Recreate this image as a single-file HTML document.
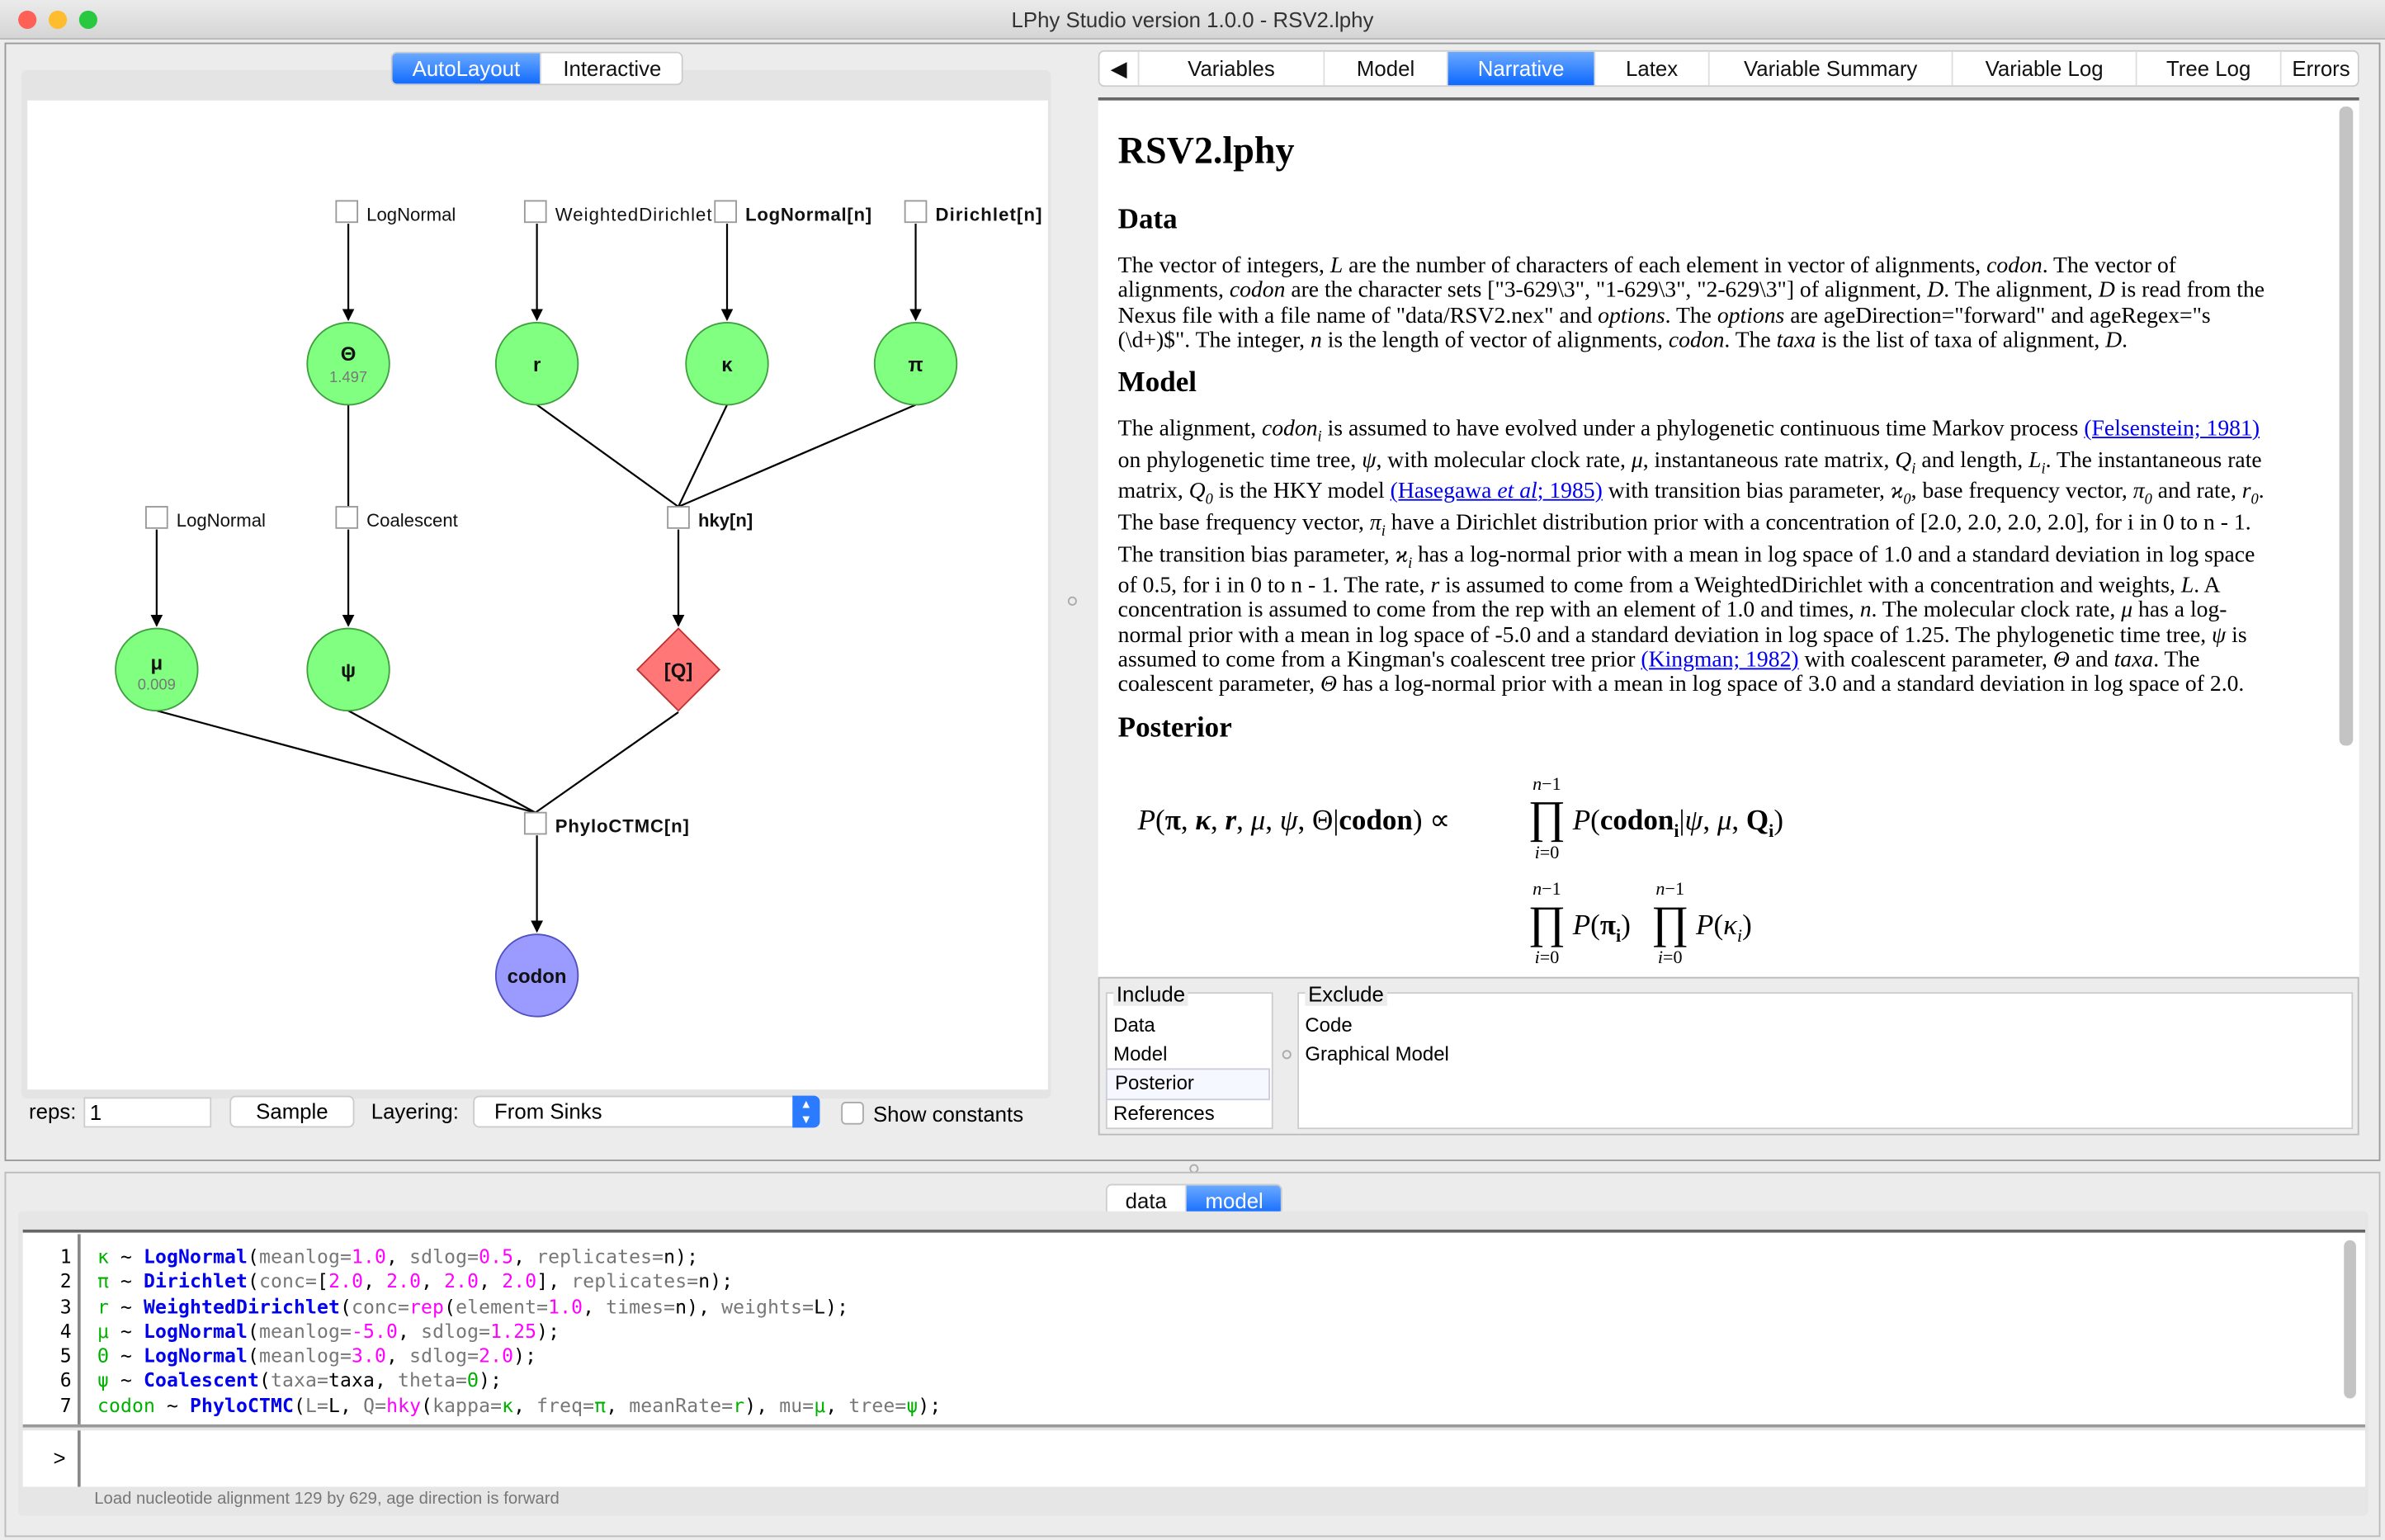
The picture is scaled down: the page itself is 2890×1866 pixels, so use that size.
<!DOCTYPE html>
<html><head><meta charset="utf-8"><style>
*{box-sizing:border-box;margin:0;padding:0}
body{width:2890px;height:1866px;overflow:hidden;background:#ececec;font-family:"Liberation Sans",sans-serif}
#w{position:absolute;left:0;top:0;width:1568px;height:1012px;transform:scale(1.8431,1.8439);transform-origin:0 0;background:#ececec}
.a{position:absolute}
.tab{position:absolute;top:0;height:23px;font-size:14px;line-height:23px;text-align:center;background:#fff;border-right:1px solid #ddd;color:#111}
.sel{background:linear-gradient(#6aa9ff,#0a66ff);color:#fff}
.L{position:absolute;left:735px;font-family:"Liberation Serif",serif;font-size:15px;line-height:18px;white-space:nowrap;color:#000}
.H{position:absolute;left:735px;font-family:"Liberation Serif",serif;font-size:19px;font-weight:bold;line-height:22px}
.L a{color:#00e;text-decoration:underline}
.L sub{font-size:10px;line-height:0}
.code{font-family:"DejaVu Sans Mono","Liberation Mono",monospace;font-size:12.5px;line-height:16.3px;white-space:pre;letter-spacing:0.07px}
.g{color:#00b000}.b{color:#0000ee;font-weight:bold}.m{color:#f0f}.gr{color:#777}
.lst div{font-size:13px;line-height:18.6px;padding-left:5px}
</style></head><body><div id="w">
<div class="a" style="left:0;top:0;width:1568px;height:26px;background:linear-gradient(#ebebeb,#d5d5d5);border-bottom:1px solid #b8b8b8;text-align:center;font-size:14px;line-height:26px;color:#333">LPhy Studio version 1.0.0 - RSV2.lphy</div>
<div class="a" style="left:12px;top:7px;width:12px;height:12px;border-radius:6px;background:#fe5f57"></div>
<div class="a" style="left:32px;top:7px;width:12px;height:12px;border-radius:6px;background:#febc2e"></div>
<div class="a" style="left:52px;top:7px;width:12px;height:12px;border-radius:6px;background:#28c840"></div>
<div class="a" style="left:3px;top:28px;width:1562px;height:735px;border:1px solid #999"></div>
<div class="a" style="left:14px;top:46px;width:677px;height:676px;background:#e4e4e4;border-radius:4px"></div>
<div class="a" style="left:257px;top:34px;width:192px;height:22px;border-radius:4px;overflow:hidden;border:1px solid #ccc">
<div class="tab sel" style="left:0;width:98px;height:22px;line-height:21px">AutoLayout</div>
<div class="tab" style="left:98px;width:94px;height:22px;line-height:21px">Interactive</div></div>
<div class="a" style="left:18px;top:66px;width:671px;height:650px;background:#fff"></div>
<svg class="a" style="left:0;top:0" width="700" height="720" font-family="Liberation Sans,sans-serif">
<defs><marker id="ar" markerWidth="8" markerHeight="8" refX="7" refY="4" orient="auto" markerUnits="userSpaceOnUse"><path d="M0,0L8,4L0,8z" fill="#000"/></marker></defs>
<g stroke="#000" stroke-width="1.2" fill="none">
<line x1="229" y1="147" x2="229" y2="210" marker-end="url(#ar)"/>
<line x1="353" y1="147" x2="353" y2="210" marker-end="url(#ar)"/>
<line x1="478" y1="147" x2="478" y2="210" marker-end="url(#ar)"/>
<line x1="602" y1="147" x2="602" y2="210" marker-end="url(#ar)"/>
<line x1="229" y1="266" x2="229" y2="333"/>
<line x1="353" y1="266" x2="446" y2="333"/><line x1="478" y1="266" x2="446" y2="333"/><line x1="602" y1="266" x2="446" y2="333"/>
<line x1="103" y1="348" x2="103" y2="411" marker-end="url(#ar)"/>
<line x1="229" y1="348" x2="229" y2="411" marker-end="url(#ar)"/>
<line x1="446" y1="348" x2="446" y2="411" marker-end="url(#ar)"/>
<line x1="103" y1="467" x2="352" y2="534"/><line x1="229" y1="467" x2="352" y2="534"/><line x1="446" y1="468" x2="352" y2="534"/>
<line x1="353" y1="549" x2="353" y2="612" marker-end="url(#ar)"/>
</g>
<g fill="#fff" stroke="#999">
<rect x="221" y="132" width="14" height="14"/><rect x="345" y="132" width="14" height="14"/><rect x="470" y="132" width="14" height="14"/><rect x="595" y="132" width="14" height="14"/>
<rect x="96" y="333" width="14" height="14"/><rect x="221" y="333" width="14" height="14"/><rect x="439" y="333" width="14" height="14"/><rect x="345" y="534" width="14" height="14"/>
</g>
<g font-size="12" fill="#111">
<text x="241" y="145">LogNormal</text><text x="365" y="145" textLength="103">WeightedDirichlet</text><text x="490" y="145" font-weight="bold" textLength="83">LogNormal[n]</text><text x="615" y="145" font-weight="bold" textLength="70">Dirichlet[n]</text>
<text x="116" y="346">LogNormal</text><text x="241" y="346">Coalescent</text><text x="459" y="346" font-weight="bold">hky[n]</text><text x="365" y="547" font-weight="bold" textLength="88">PhyloCTMC[n]</text>
</g>
<g fill="#80ff80" stroke="#3fa03f" stroke-width="1">
<circle cx="229" cy="239" r="27"/><circle cx="353" cy="239" r="27"/><circle cx="478" cy="239" r="27"/><circle cx="602" cy="239" r="27"/>
<circle cx="103" cy="440" r="27"/><circle cx="229" cy="440" r="27"/></g>
<path d="M446,413L473,440L446,467L419,440z" fill="#ff7777" stroke="#c03030"/>
<circle cx="353" cy="641" r="27" fill="#9a9aff" stroke="#5050c0"/>
<g font-size="13" font-weight="bold" text-anchor="middle" fill="#111">
<text x="229" y="237">Θ</text><text x="353" y="244">r</text><text x="478" y="244">κ</text><text x="602" y="244">π</text>
<text x="103" y="440">μ</text><text x="229" y="445">ψ</text><text x="446" y="445">[Q]</text><text x="353" y="646">codon</text></g>
<g font-size="10" text-anchor="middle" fill="#777"><text x="229" y="251">1.497</text><text x="103" y="453">0.009</text></g>
</svg>
<div class="a" style="left:19px;top:722px;font-size:14px">reps:</div>
<div class="a" style="left:55px;top:721px;width:84px;height:20px;background:#fff;border:1px solid #ccc;font-size:14px;padding-left:3px;line-height:18px">1</div>
<div class="a" style="left:151px;top:720px;width:82px;height:21px;background:#fff;border:1px solid #ccc;border-radius:4px;font-size:14px;text-align:center;line-height:19px">Sample</div>
<div class="a" style="left:244px;top:722px;font-size:14px">Layering:</div>
<div class="a" style="left:311px;top:720px;width:228px;height:21px;background:#fff;border:1px solid #ccc;border-radius:4px;font-size:14px;padding-left:13px;line-height:19px">From Sinks</div>
<div class="a" style="left:521px;top:720px;width:18px;height:21px;background:#2a7bff;border-radius:0 4px 4px 0;color:#fff;font-size:8px;text-align:center;line-height:10px;padding-top:1px">▲<br>▼</div>
<div class="a" style="left:553px;top:724px;width:15px;height:15px;background:#fff;border:1px solid #aaa;border-radius:3px"></div>
<div class="a" style="left:574px;top:724px;font-size:14px">Show constants</div>
<div class="a" style="left:702px;top:392px;width:6px;height:6px;border-radius:3px;border:1px solid #aaa"></div>
<div class="a" style="left:722px;top:33px;width:829px;height:24px;border:1px solid #ccc;border-radius:4px;overflow:hidden;background:#fff">
<div class="tab" style="left:0;width:26px">◀</div>
<div class="tab" style="left:26px;width:122px">Variables</div>
<div class="tab" style="left:148px;width:81px">Model</div>
<div class="tab sel" style="left:229px;width:97px">Narrative</div>
<div class="tab" style="left:326px;width:75px">Latex</div>
<div class="tab" style="left:401px;width:160px">Variable Summary</div>
<div class="tab" style="left:561px;width:121px">Variable Log</div>
<div class="tab" style="left:682px;width:95px">Tree Log</div>
<div class="tab" style="left:777px;width:52px;border:0">Errors</div></div>
<div class="a" style="left:722px;top:64px;width:829px;height:578px;background:#fff;border-top:2px solid #666"></div>
<div class="a" style="left:1538px;top:70px;width:9px;height:420px;background:#c4c4c4;border-radius:4px"></div>
<div class="H" style="top:86px;font-size:25px;line-height:28px">RSV2.lphy</div>
<div class="H" style="top:134px">Data</div>
<div class="L" style="top:166px">The vector of integers, <i>L</i> are the number of characters of each element in vector of alignments, <i>codon</i>. The vector of</div>
<div class="L" style="top:182px">alignments, <i>codon</i> are the character sets ["3-629\3", "1-629\3", "2-629\3"] of alignment, <i>D</i>. The alignment, <i>D</i> is read from the</div>
<div class="L" style="top:199px">Nexus file with a file name of "data/RSV2.nex" and <i>options</i>. The <i>options</i> are ageDirection="forward" and ageRegex="s</div>
<div class="L" style="top:215px">(\d+)$". The integer, <i>n</i> is the length of vector of alignments, <i>codon</i>. The <i>taxa</i> is the list of taxa of alignment, <i>D</i>.</div>
<div class="H" style="top:241px">Model</div>
<div class="L" style="top:273px">The alignment, <i>codon<sub>i</sub></i> is assumed to have evolved under a phylogenetic continuous time Markov process <a>(Felsenstein; 1981)</a></div>
<div class="L" style="top:294px">on phylogenetic time tree, <i>ψ</i>, with molecular clock rate, <i>μ</i>, instantaneous rate matrix, <i>Q<sub>i</sub></i> and length, <i>L<sub>i</sub></i>. The instantaneous rate</div>
<div class="L" style="top:314px">matrix, <i>Q<sub>0</sub></i> is the HKY model <a>(Hasegawa <i>et al</i>; 1985)</a> with transition bias parameter, <i>ϰ<sub>0</sub></i>, base frequency vector, <i>π<sub>0</sub></i> and rate, <i>r<sub>0</sub></i>.</div>
<div class="L" style="top:335px">The base frequency vector, <i>π<sub>i</sub></i> have a Dirichlet distribution prior with a concentration of [2.0, 2.0, 2.0, 2.0], for i in 0 to n - 1.</div>
<div class="L" style="top:356px">The transition bias parameter, <i>ϰ<sub>i</sub></i> has a log-normal prior with a mean in log space of 1.0 and a standard deviation in log space</div>
<div class="L" style="top:376px">of 0.5, for i in 0 to n - 1. The rate, <i>r</i> is assumed to come from a WeightedDirichlet with a concentration and weights, <i>L</i>. A</div>
<div class="L" style="top:392px">concentration is assumed to come from the rep with an element of 1.0 and times, <i>n</i>. The molecular clock rate, <i>μ</i> has a log-</div>
<div class="L" style="top:409px">normal prior with a mean in log space of -5.0 and a standard deviation in log space of 1.25. The phylogenetic time tree, <i>ψ</i> is</div>
<div class="L" style="top:425px">assumed to come from a Kingman's coalescent tree prior <a>(Kingman; 1982)</a> with coalescent parameter, <i>Θ</i> and <i>taxa</i>. The</div>
<div class="L" style="top:441px">coalescent parameter, <i>Θ</i> has a log-normal prior with a mean in log space of 3.0 and a standard deviation in log space of 2.0.</div>
<div class="H" style="top:468px">Posterior</div>
<div class="a" style="left:748px;top:528px;font-family:'Liberation Serif',serif;font-size:19px"><i>P</i>(<b>π</b>, <b><i>κ</i></b>, <b><i>r</i></b>, <i>μ</i>, <i>ψ</i>, Θ|<b>codon</b>) ∝</div>
<div class="a" style="left:1002px;top:508px;font-family:'Liberation Serif',serif;font-size:12px;text-align:center;width:30px"><i>n</i>−1<div style="font-size:30px;line-height:30px">∏</div><i>i</i>=0</div>
<div class="a" style="left:1034px;top:529px;font-family:'Liberation Serif',serif;font-size:19px"><i>P</i>(<b>codon<sub style="font-size:12px">i</sub></b>|<i>ψ</i>, <i>μ</i>, <b>Q<sub style="font-size:12px">i</sub></b>)</div>
<div class="a" style="left:1002px;top:577px;font-family:'Liberation Serif',serif;font-size:12px;text-align:center;width:30px"><i>n</i>−1<div style="font-size:30px;line-height:30px">∏</div><i>i</i>=0</div>
<div class="a" style="left:1034px;top:598px;font-family:'Liberation Serif',serif;font-size:19px"><i>P</i>(<b>π<sub style="font-size:12px">i</sub></b>)</div>
<div class="a" style="left:1083px;top:577px;font-family:'Liberation Serif',serif;font-size:12px;text-align:center;width:30px"><i>n</i>−1<div style="font-size:30px;line-height:30px">∏</div><i>i</i>=0</div>
<div class="a" style="left:1115px;top:598px;font-family:'Liberation Serif',serif;font-size:19px"><i>P</i>(<i>κ<sub style="font-size:12px">i</sub></i>)</div>
<div class="a" style="left:722px;top:642px;width:829px;height:104px;background:#ececec;border:1px solid #bbb"></div>
<div class="a" style="left:727px;top:652px;width:110px;height:90px;background:#fff;border:1px solid #ccc"></div>
<div class="a" style="left:732px;top:645px;font-size:14px;background:#ececec;padding:0 2px">Include</div>
<div class="a lst" style="left:727px;top:665px;width:108px"><div>Data</div><div>Model</div><div style="border:1px solid #ccd;background:#f6f8ff">Posterior</div><div>References</div></div>
<div class="a" style="left:843px;top:690px;width:6px;height:6px;border-radius:3px;border:1px solid #aaa"></div>
<div class="a" style="left:853px;top:652px;width:694px;height:90px;background:#fff;border:1px solid #ccc"></div>
<div class="a" style="left:858px;top:645px;font-size:14px;background:#ececec;padding:0 2px">Exclude</div>
<div class="a lst" style="left:853px;top:665px"><div>Code</div><div>Graphical Model</div></div>
<div class="a" style="left:782px;top:765px;width:6px;height:6px;border-radius:3px;border:1px solid #aaa"></div>
<div class="a" style="left:3px;top:770px;width:1562px;height:240px;border:1px solid #bbb"></div>
<div class="a" style="left:727px;top:778px;width:116px;height:21px;border:1px solid #ccc;border-radius:4px;overflow:hidden;background:#fff">
<div class="tab" style="left:0;width:52px;height:21px;line-height:20px">data</div>
<div class="tab sel" style="left:52px;width:64px;height:21px;line-height:20px">model</div></div>
<div class="a" style="left:12px;top:796px;width:1545px;height:200px;background:#e6e6e6;border-radius:3px"></div>
<div class="a" style="left:15px;top:808px;width:1540px;height:130px;background:#fff;border-top:2px solid #666;border-bottom:2px solid #999"></div>
<div class="a" style="left:51px;top:811px;width:2px;height:125px;background:#888"></div>
<div class="a" style="left:1541px;top:815px;width:8px;height:104px;background:#c4c4c4;border-radius:4px"></div>
<div class="a code" style="left:22px;top:818px;text-align:right;width:25px;color:#000;letter-spacing:0">1
2
3
4
5
6
7</div>
<div class="a code" style="left:64px;top:818px"><span class="g">κ</span> ~ <span class="b">LogNormal</span>(<span class="gr">meanlog=</span><span class="m">1.0</span>, <span class="gr">sdlog=</span><span class="m">0.5</span>, <span class="gr">replicates=</span>n);
<span class="g">π</span> ~ <span class="b">Dirichlet</span>(<span class="gr">conc=</span>[<span class="m">2.0</span>, <span class="m">2.0</span>, <span class="m">2.0</span>, <span class="m">2.0</span>], <span class="gr">replicates=</span>n);
<span class="g">r</span> ~ <span class="b">WeightedDirichlet</span>(<span class="gr">conc=</span><span class="m">rep</span>(<span class="gr">element=</span><span class="m">1.0</span>, <span class="gr">times=</span>n), <span class="gr">weights=</span>L);
<span class="g">μ</span> ~ <span class="b">LogNormal</span>(<span class="gr">meanlog=</span><span class="m">-5.0</span>, <span class="gr">sdlog=</span><span class="m">1.25</span>);
<span class="g">Θ</span> ~ <span class="b">LogNormal</span>(<span class="gr">meanlog=</span><span class="m">3.0</span>, <span class="gr">sdlog=</span><span class="m">2.0</span>);
<span class="g">ψ</span> ~ <span class="b">Coalescent</span>(<span class="gr">taxa=</span>taxa, <span class="gr">theta=</span><span class="g">Θ</span>);
<span class="g">codon</span> ~ <span class="b">PhyloCTMC</span>(<span class="gr">L=</span>L, <span class="gr">Q=</span><span class="m">hky</span>(<span class="gr">kappa=</span><span class="g">κ</span>, <span class="gr">freq=</span><span class="g">π</span>, <span class="gr">meanRate=</span><span class="g">r</span>), <span class="gr">mu=</span><span class="g">μ</span>, <span class="gr">tree=</span><span class="g">ψ</span>);</div>
<div class="a" style="left:15px;top:940px;width:1540px;height:37px;background:#fff"></div>
<div class="a" style="left:51px;top:940px;width:2px;height:37px;background:#888"></div>
<div class="a" style="left:35px;top:950px;font-size:14px">&gt;</div>
<div class="a" style="left:62px;top:979px;font-size:11px;color:#777">Load nucleotide alignment 129 by 629, age direction is forward</div>
</div></body></html>
